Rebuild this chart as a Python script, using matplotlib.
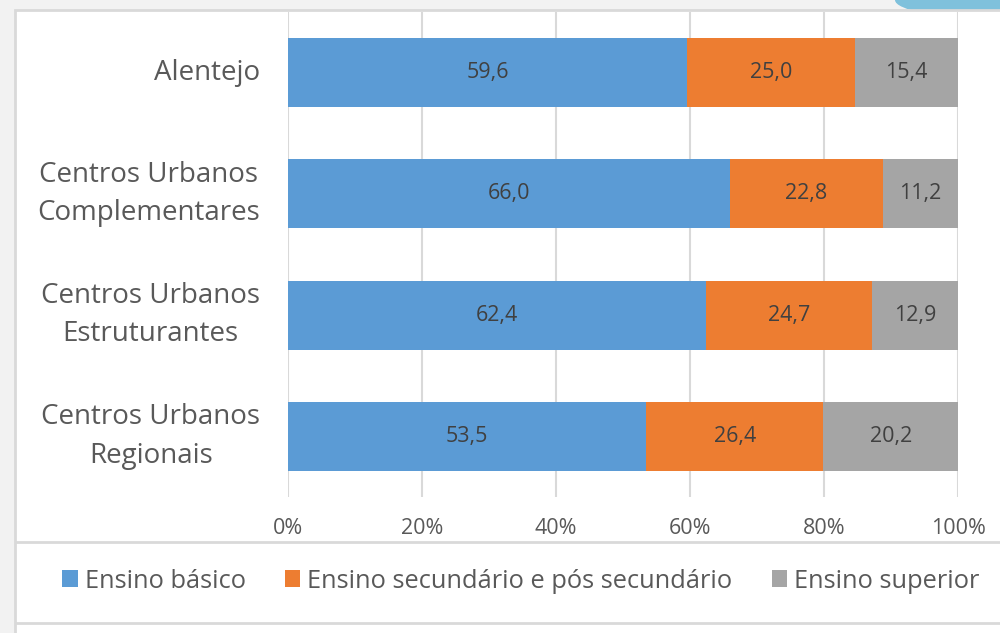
import numpy as np
import matplotlib.pyplot as plt
from matplotlib.patches import Rectangle, Ellipse
from matplotlib.lines import Line2D

plt.rcParams['font.family'] = ['Open Sans', 'DejaVu Sans']

categories = ['Alentejo', 'Centros Urbanos\nComplementares',
              'Centros Urbanos\nEstruturantes', 'Centros Urbanos\nRegionais']
basico = [59.6, 66.0, 62.4, 53.5]
secundario = [25.0, 22.8, 24.7, 26.4]
superior = [15.4, 11.2, 12.9, 20.2]
series_names = ['Ensino básico', 'Ensino secundário e pós secundário', 'Ensino superior']
colors = ['#5B9BD5', '#ED7D31', '#A5A5A5']

fig = plt.figure(figsize=(10, 6.33), dpi=100, facecolor='#f2f2f2')

# decorative shape in top-right corner (behind the chart area)
fig.patches.append(Ellipse((1.0, 1.0), 0.21, 0.06, transform=fig.transFigure,
                           facecolor='#7fc1dc', edgecolor='none', zorder=-6))
# white chart area with light border
fig.patches.append(Rectangle((0.015, -0.01), 0.99, 1 - 10 / 633 + 0.01, transform=fig.transFigure,
                             facecolor='white', edgecolor='#d9d9d9', linewidth=2, zorder=-5))
for yy in [1 - 542 / 633, 1 - 623 / 633]:
    fig.lines.append(Line2D([0.016, 1.0], [yy, yy], transform=fig.transFigure,
                            color='#d9d9d9', linewidth=2))

ax = fig.add_axes([0.288, 1 - 497 / 633, 0.670, (497 - 12) / 633])
ax.set_facecolor('none')

y = np.arange(len(categories))
data = [basico, secundario, superior]
left = np.zeros(len(categories))
for vals, name, col in zip(data, series_names, colors):
    vals = np.array(vals)
    ax.barh(y, vals, left=left, height=0.57, color=col, label=name, zorder=2)
    for yi, l, v in zip(y, left, vals):
        ax.text(l + v / 2, yi, f'{v:.1f}'.replace('.', ','), ha='center', va='center',
                fontsize=15.5, color='#404040', zorder=3)
    left += vals

ax.set_xlim(0, 100)
ax.set_ylim(3.5, -0.5)
ax.set_xticks([0, 20, 40, 60, 80, 100])
ax.set_xticklabels([f'{t}%' for t in [0, 20, 40, 60, 80, 100]])
ax.set_yticks(y)
ax.set_yticklabels(categories)
ax.grid(axis='x', color='#d9d9d9', linewidth=1.5, zorder=0)
ax.set_axisbelow(True)
for s in ax.spines.values():
    s.set_visible(False)
ax.tick_params(axis='x', length=0, pad=15, labelsize=15.5, labelcolor='#595959')
ax.tick_params(axis='y', length=0, pad=20, labelsize=20, labelcolor='#595959')
for lab in ax.get_yticklabels():
    lab.set_horizontalalignment('right')
    lab.set_verticalalignment('center')
    lab.set_multialignment('center')
    lab.set_linespacing(1.5)

handles, labels = ax.get_legend_handles_labels()
fig.legend(handles, labels, loc='center', bbox_to_anchor=(0.521, 1 - 581 / 633), ncol=3,
           frameon=False, fontsize=18.3, labelcolor='#595959', handlelength=0.6,
           handleheight=0.6, handletextpad=0.28, columnspacing=1.55)

fig.savefig('out.png', dpi=100, facecolor=fig.get_facecolor())
